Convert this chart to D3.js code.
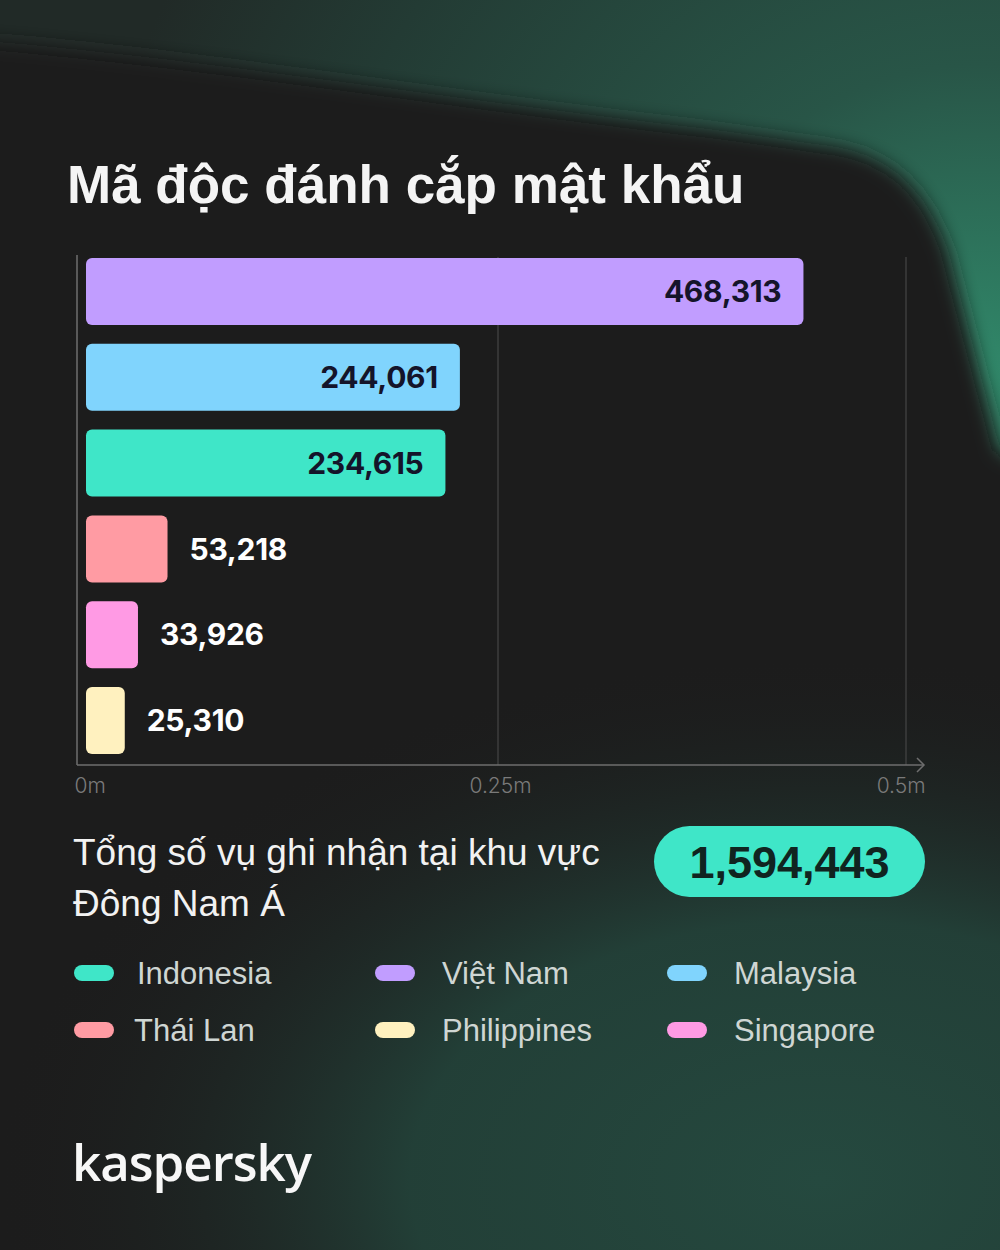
<!DOCTYPE html>
<html><head><meta charset="utf-8">
<script src="https://cdn.jsdelivr.net/npm/d3@7"></script>
<style>html,body{margin:0;padding:0;background:#1e1e1e;}svg{display:block;}</style>
</head><body>
<svg id="chart" width="1000" height="1250"></svg>
<script>
// ---- data ----
const categories = ["Việt Nam", "Malaysia", "Indonesia", "Thái Lan", "Singapore", "Philippines"];
const values = [468313, 244061, 234615, 53218, 33926, 25310];
const barColors = ["#c19dff", "#80d4fd", "#3fe6c8", "#ff9ba3", "#ff9ae4", "#fff1bf"];
const tickValues = [0, 250000, 500000];
const tickLabels = ["0m", "0.25m", "0.5m"];
const legendOrder = ["Indonesia", "Việt Nam", "Malaysia", "Thái Lan", "Philippines", "Singapore"];
const totalValue = 1594443;
const title = "Mã độc đánh cắp mật khẩu";
const subtitleLines = ["Tổng số vụ ghi nhận tại khu vực", "Đông Nam Á"];

const colorOf = d3.scaleOrdinal().domain(categories).range(barColors);
const fmt = d3.format(",");

const svg = d3.select("#chart");
const defs = svg.append("defs");

// ---- background ----
const rg = defs.append("radialGradient").attr("id","topGlow")
  .attr("gradientUnits","userSpaceOnUse").attr("cx",980).attr("cy",380).attr("r",900);
rg.append("stop").attr("offset","0").attr("stop-color","#318a6b");
rg.append("stop").attr("offset","0.35").attr("stop-color","#285547");
rg.append("stop").attr("offset","0.75").attr("stop-color","#233b34");
rg.append("stop").attr("offset","1").attr("stop-color","#212a27");

const bg = defs.append("radialGradient").attr("id","botGlow");
bg.append("stop").attr("offset","0").attr("stop-color","#25493f").attr("stop-opacity",1);
bg.append("stop").attr("offset","0.5").attr("stop-color","#23433a").attr("stop-opacity",0.9);
bg.append("stop").attr("offset","1").attr("stop-color","#1e1e1e").attr("stop-opacity",0);

const blur = defs.append("filter").attr("id","blur").attr("x","-20%").attr("y","-20%").attr("width","140%").attr("height","140%");
blur.append("feGaussianBlur").attr("stdDeviation",9);

svg.append("rect").attr("width",1000).attr("height",1250).attr("fill","url(#topGlow)");
svg.append("path")
  .attr("d","M-60,38 C150,50 450,100 700,128 C760,136 800,142 830,146 C900,156 930,200 948,250 L1000,450 L1060,480 L1060,1320 L-60,1320 Z")
  .attr("fill","#1e1e1e").attr("filter","url(#blur)");
svg.append("ellipse").attr("cx",820).attr("cy",1180).attr("rx",820).attr("ry",520)
  .attr("fill","url(#botGlow)");

// ---- title ----
svg.append("text").attr("x",67).attr("y",203)
  .attr("font-family","'Liberation Sans', Arial, sans-serif").attr("font-weight",700)
  .attr("font-size",53).attr("fill","#f4f4f4").text(title);

// ---- scales ----
const xAxisScale = d3.scaleLinear().domain([0, 250000, 500000]).range([77, 498, 906]);
const xBar = d3.scaleLinear().domain([0, 500000]).range([86, 852]);
const y = d3.scaleBand().domain(categories).range([248.6, 763.4]).paddingInner(0.219).paddingOuter(0.11);

// gridlines
svg.append("g").selectAll("line").data(tickValues.slice(1)).join("line")
  .attr("x1",d=>xAxisScale(d)).attr("x2",d=>xAxisScale(d))
  .attr("y1",257).attr("y2",765).attr("stroke","#454545").attr("stroke-width",1.2);

// y axis line
svg.append("line").attr("x1",77).attr("x2",77).attr("y1",255).attr("y2",765)
  .attr("stroke","#6e6e6e").attr("stroke-width",1.5);
// x axis line with arrow
svg.append("line").attr("x1",77).attr("x2",924).attr("y1",765).attr("y2",765)
  .attr("stroke","#6e6e6e").attr("stroke-width",1.5);
svg.append("path").attr("d","M917,758 L924,765 L917,772").attr("fill","none")
  .attr("stroke","#6e6e6e").attr("stroke-width",1.5);

// tick labels via axis
const axisG = svg.append("g").attr("transform","translate(0,778)")
  .call(d3.axisBottom(xAxisScale).tickValues(tickValues).tickSize(0).tickPadding(0)
    .tickFormat((d,i)=>tickLabels[i]));
axisG.select(".domain").remove();
axisG.selectAll("text")
  .attr("font-family","Inter, 'Noto Sans', sans-serif").attr("font-size",21).attr("font-weight",300)
  .attr("fill","#7a7a7a").attr("dy","0.71em")
  .attr("text-anchor",(d,i)=> i===0 ? "start" : (i===tickValues.length-1 ? "end" : "middle"))
  .attr("dx",(d,i)=> i===0 ? -3 : (i===tickValues.length-1 ? 19 : 2));

// bars
const barData = categories.map((c,i)=>({c, v: values[i]}));
svg.append("g").selectAll("rect").data(barData).join("rect")
  .attr("x",xBar(0)).attr("y",d=>y(d.c))
  .attr("width",d=>xBar(d.v)-xBar(0)).attr("height",y.bandwidth())
  .attr("rx",6).attr("fill",d=>colorOf(d.c));

// bar labels
svg.append("g").selectAll("text").data(barData).join("text")
  .attr("x",d=> d.v > 150000 ? xBar(d.v)-22 : xBar(d.v)+22)
  .attr("y",d=>y(d.c)+y.bandwidth()/2)
  .attr("dy","0.36em")
  .attr("text-anchor",d=> d.v > 150000 ? "end" : "start")
  .attr("font-family","Inter, 'Open Sans', sans-serif").attr("font-weight",700)
  .attr("font-size",30).attr("letter-spacing","-0.3")
  .attr("fill",d=> d.v > 150000 ? "#14142a" : "#ffffff")
  .text(d=>fmt(d.v));

// subtitle
svg.append("g").selectAll("text").data(subtitleLines).join("text")
  .attr("x",73).attr("y",(d,i)=>865+i*51)
  .attr("font-family","'Liberation Sans', Arial, sans-serif").attr("font-size",37)
  .attr("fill","#f2f2f2").text(d=>d);

// total pill
svg.append("rect").attr("x",654).attr("y",826).attr("width",271).attr("height",71)
  .attr("rx",35.5).attr("fill","#3fe6c8");
svg.append("text").attr("x",789.5).attr("y",861.5).attr("dy","0.36em")
  .attr("text-anchor","middle")
  .attr("font-family","'Liberation Sans', Arial, sans-serif").attr("font-weight",700)
  .attr("font-size",45).attr("fill","#102420").text(fmt(totalValue));

// legend
const colX = [74, 375, 667];
const textOff = [63, 67, 67];
const rowY = [973, 1030];
const leg = svg.append("g").selectAll("g").data(legendOrder).join("g")
  .attr("transform",(d,i)=>`translate(${colX[i%3]},${rowY[Math.floor(i/3)]})`);
leg.append("rect").attr("x",0).attr("y",-8).attr("width",40).attr("height",16).attr("rx",8)
  .attr("fill",d=>colorOf(d));
leg.append("text").attr("x",(d,i)=> i===3 ? 60 : textOff[i%3]).attr("y",0).attr("dy","0.36em")
  .attr("font-family","'Liberation Sans', Arial, sans-serif").attr("font-size",31)
  .attr("fill","#cfd6d3").text(d=>d);

// logo
svg.append("text").attr("x",72).attr("y",1181)
  .attr("font-family","'Open Sans', 'Noto Sans', sans-serif").attr("font-weight",600)
  .attr("font-size",51).attr("letter-spacing","-1").attr("fill","#f7f7f7").text("kaspersky");
</script>
</body></html>
